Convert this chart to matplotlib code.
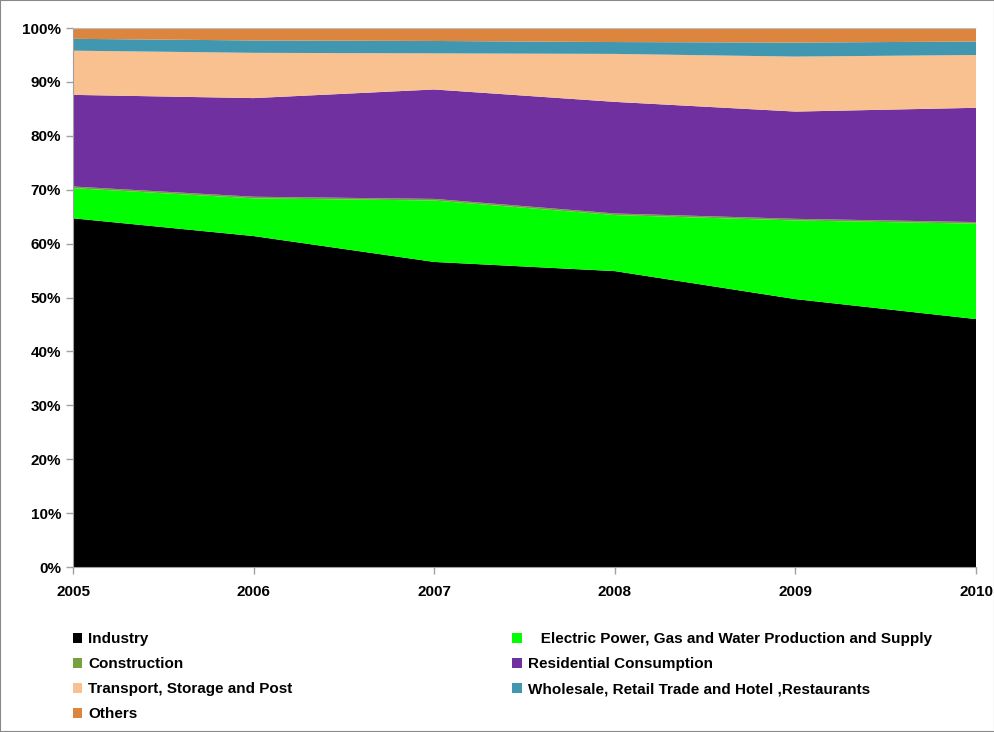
import matplotlib.pyplot as plt
from matplotlib.patches import Rectangle
from matplotlib.ticker import PercentFormatter

years = [2005, 2006, 2007, 2008, 2009, 2010]

industry = [64.7, 61.4, 56.6, 54.9, 49.7, 46.0]
electric = [5.6, 7.0, 11.4, 10.4, 14.6, 17.7]
construction = [0.3, 0.3, 0.3, 0.3, 0.3, 0.3]
residential = [17.0, 18.3, 20.3, 20.7, 19.9, 21.2]
transport = [8.2, 8.4, 6.7, 8.9, 10.2, 9.8]
wholesale = [2.2, 2.3, 2.3, 2.2, 2.6, 2.5]
others = [2.0, 2.3, 2.4, 2.6, 2.7, 2.5]

labels = ["Industry", "   Electric Power, Gas and Water Production and Supply",
          "Construction", "Residential Consumption",
          "Transport, Storage and Post",
          "Wholesale, Retail Trade and Hotel ,Restaurants", "Others"]
colors = ["#000000", "#00FF00", "#77A13D", "#7030A0", "#F9C090", "#4197AF", "#DB853F"]

series = [industry, electric, construction, residential, transport, wholesale, others]
totals = [sum(v) for v in zip(*series)]
shares = [[100 * v / t for v, t in zip(s, totals)] for s in series]

plt.rcParams["font.family"] = ["Liberation Sans", "DejaVu Sans"]

fig = plt.figure(figsize=(9.95, 7.32), dpi=100)
ax = fig.add_axes([0.0734, 0.2254, 0.9076, 0.7363])

polys = ax.stackplot(years, *shares, colors=colors, labels=labels, linewidth=0)

ax.set_xlim(2005, 2010)
ax.set_ylim(0, 100)
ax.set_xticks(years)
ax.set_yticks(range(0, 101, 10))
ax.yaxis.set_major_formatter(PercentFormatter(decimals=0))
ax.tick_params(axis="both", labelsize=11, color="#A0A0A0", length=5, width=1)
ax.tick_params(axis="x", pad=8)
for lab in ax.get_xticklabels() + ax.get_yticklabels():
    lab.set_fontweight("bold")

for side in ["left", "bottom"]:
    ax.spines[side].set_color("#A0A0A0")
ax.spines["top"].set_color("#C0C0C0")
ax.spines["top"].set_linestyle((0, (2, 1)))
ax.spines["right"].set_visible(False)

# legend laid out row-wise like the original: two columns
left_idx = [0, 2, 4, 6]
right_idx = [1, 3, 5]
kw = dict(frameon=False, handlelength=0.6, handleheight=0.6, handletextpad=0.4,
          labelspacing=0.72, prop={"weight": "bold", "size": 11},
          loc="upper left", borderaxespad=0, borderpad=0)
leg1 = fig.legend([polys[i] for i in left_idx], [labels[i] for i in left_idx],
                  bbox_to_anchor=(0.073, 0.1365), **kw)
leg2 = fig.legend([polys[i] for i in right_idx], [labels[i] for i in right_idx],
                  bbox_to_anchor=(0.515, 0.1365), **kw)

fig.patches.append(Rectangle((0, 0), 1, 1, transform=fig.transFigure, fill=False,
                             edgecolor="#888888", linewidth=1.5))

fig.savefig("out.png", dpi=100)
